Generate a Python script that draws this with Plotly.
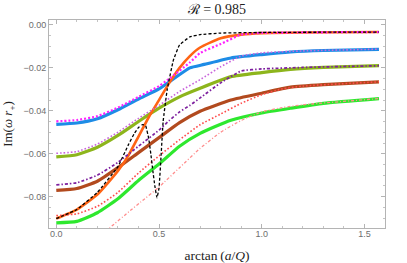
import plotly.graph_objects as go

# ---------------- data ----------------
x_common = [0.0, 0.1, 0.2, 0.3, 0.4, 0.5, 0.6, 0.7, 0.85, 1.0, 1.14, 1.3, 1.5708]

blue_x = [0.0, 0.1, 0.2, 0.3, 0.4, 0.5, 0.58, 0.65, 0.72, 0.85, 1.0, 1.14, 1.3, 1.5708]
blue_y = [-0.0463, -0.0457, -0.0437, -0.0395, -0.0345, -0.0298, -0.0245, -0.0200, -0.0184, -0.0154, -0.0138, -0.0126, -0.0119, -0.0114]
olive_y = [-0.0615, -0.0605, -0.0570, -0.0515, -0.0450, -0.0388, -0.0335, -0.0295, -0.0241, -0.0222, -0.0207, -0.0198, -0.0190]
brown_y = [-0.0771, -0.0762, -0.0728, -0.0665, -0.0595, -0.0525, -0.0455, -0.0402, -0.0350, -0.0318, -0.0290, -0.0278, -0.0265]
green_y = [-0.0922, -0.0915, -0.0875, -0.0810, -0.0725, -0.0648, -0.0565, -0.0505, -0.0444, -0.0410, -0.0388, -0.0365, -0.0343]

orange_x = [0.0, 0.1, 0.2, 0.3, 0.35, 0.4, 0.45, 0.5, 0.55, 0.6, 0.65, 0.7, 0.8, 0.9, 1.0, 1.2, 1.5708]
orange_y = [-0.0902, -0.0860, -0.0790, -0.0680, -0.0610, -0.0520, -0.0430, -0.0350, -0.0270, -0.0200, -0.0145, -0.0105, -0.0062, -0.0045, -0.0038, -0.0035, -0.0033]

black_x = [0.0, 0.1, 0.2, 0.3, 0.35, 0.38, 0.40, 0.42, 0.435, 0.45, 0.46, 0.47, 0.48, 0.49, 0.50, 0.51, 0.52, 0.54, 0.57, 0.60, 0.65, 0.7, 0.8, 1.0, 1.5708]
black_y = [-0.0902, -0.0860, -0.0780, -0.0660, -0.0560, -0.0505, -0.0478, -0.0464, -0.0470, -0.0530, -0.0600, -0.0680, -0.0752, -0.0805, -0.0760, -0.0610, -0.0450, -0.0300, -0.0164, -0.0093, -0.0056, -0.0045, -0.0038, -0.0035, -0.0033]

magenta_x = [0.0, 0.1, 0.2, 0.3, 0.4, 0.5, 0.55, 0.65, 0.7, 0.8, 0.9, 1.0, 1.2, 1.5708]
magenta_y = [-0.0449, -0.0443, -0.0425, -0.0385, -0.0335, -0.0285, -0.0250, -0.0175, -0.0131, -0.0089, -0.0045, -0.0037, -0.0035, -0.0033]

orchid_x = [0.0, 0.1, 0.2, 0.3, 0.4, 0.5, 0.6, 0.7, 0.8, 0.9, 1.0, 1.2, 1.5708]
orchid_y = [-0.0598, -0.0590, -0.0555, -0.0500, -0.0435, -0.0375, -0.0310, -0.0255, -0.0195, -0.0145, -0.0130, -0.0121, -0.0113]

purple_x = [0.0, 0.1, 0.2, 0.3, 0.4, 0.5, 0.55, 0.6, 0.65, 0.7, 0.8, 0.9, 1.0, 1.2, 1.5708]
purple_y = [-0.0745, -0.0735, -0.0700, -0.0640, -0.0565, -0.0490, -0.0445, -0.0405, -0.0375, -0.0340, -0.0270, -0.0215, -0.0205, -0.0198, -0.0190]

red_x = [0.0, 0.1, 0.2, 0.3, 0.4, 0.5, 0.6, 0.7, 0.8, 0.9, 1.0, 1.1, 1.2, 1.5708]
red_y = [-0.0888, -0.0880, -0.0845, -0.0780, -0.0690, -0.0610, -0.0535, -0.0465, -0.0415, -0.0365, -0.0325, -0.0298, -0.0285, -0.0265]

pink_x = [0.24, 0.26, 0.36, 0.41, 0.5, 0.6, 0.7, 0.8, 0.9, 1.0, 1.1, 1.2, 1.5708]
pink_y = [-0.0960, -0.0945, -0.0865, -0.0826, -0.0755, -0.0665, -0.0575, -0.0500, -0.0445, -0.0405, -0.0385, -0.0372, -0.0343]

x_tickvals = [0.0, 0.5, 1.0, 1.5]
x_ticktext = ["0.0", "0.5", "1.0", "1.5"]
y_tickvals = [0.0, -0.02, -0.04, -0.06, -0.08]
y_ticktext = ["0.00", "\u22120.02", "\u22120.04", "\u22120.06", "\u22120.08"]

# ---------------- figure ----------------
fig = go.Figure()

def add(x, y, color, width, dash="solid", shape="spline", smooth=0.5):
    line = dict(color=color, width=width, dash=dash, shape=shape)
    if shape == "spline":
        line["smoothing"] = smooth
    fig.add_trace(go.Scatter(x=x, y=y, mode="lines", line=line,
                             hoverinfo="skip", showlegend=False))

# solid curves
add(blue_x, blue_y, "#1e8ce6", 3.2)
add(x_common, olive_y, "#8db51c", 3.2)
add(x_common, brown_y, "#b24a1e", 3.2)
add(x_common, green_y, "#2ee82e", 3.2)
add(orange_x, orange_y, "#ff6414", 2.6)

# dotted / dashed curves
add(pink_x, pink_y, "#ff8c8c", 1.3, "3px,2px,1px,2px")
add(red_x, red_y, "#ff4a4a", 1.6, "1.6px,2px")
add(purple_x, purple_y, "#7d1f9e", 1.7, "3px,2px,1.5px,2px")
add(orchid_x, orchid_y, "#c965dc", 1.6, "1.6px,2px")
add(magenta_x, magenta_y, "#ff22ff", 2.2, "2px,2px")
add(black_x, black_y, "#000000", 1.3, "3px,2px", shape="spline", smooth=0.3)

axis_common = dict(
    showline=True, linecolor="#b4b4b4", linewidth=1, mirror="allticks",
    ticks="inside", ticklen=4, tickcolor="#b4b4b4", tickwidth=1,
    showgrid=False, zeroline=False, automargin=False,
    tickfont=dict(family="Liberation Sans, Arial, sans-serif", size=9, color="#6e6e6e"),
)

fig.update_xaxes(
    range=[-0.0355, 1.6], tickvals=x_tickvals, ticktext=x_ticktext,
    ticklabelstandoff=-3,
    minor=dict(ticks="inside", ticklen=2, tickcolor="#c4c4c4", dtick=0.1, tick0=0),
    title=dict(text="arctan\u2009(<i>a</i>/<i>Q</i>)", standoff=14,
               font=dict(family="Liberation Serif, DejaVu Serif, serif", size=13.5, color="#222")),
    **axis_common)
fig.update_yaxes(
    range=[-0.0946, 0.0023], tickvals=y_tickvals, ticktext=y_ticktext,
    minor=dict(ticks="inside", ticklen=2, tickcolor="#c4c4c4", dtick=0.005, tick0=0),
    title=dict(text="Im(<i>\u03c9 r</i><sub>+</sub>)", standoff=9,
               font=dict(family="Liberation Serif, DejaVu Serif, serif", size=13, color="#222")),
    **axis_common)

fig.update_layout(
    width=407, height=263,
    margin=dict(l=49, r=22, t=20, b=35),
    paper_bgcolor="white", plot_bgcolor="white",
    title=dict(text="\u211b = 0.985", x=0.533, xanchor="center", y=0.965, yanchor="middle",
               font=dict(family="Liberation Serif, DejaVu Serif, serif", size=14, color="#222")),
)

fig.write_html("out.html", config={"displayModeBar": False},
               post_script="document.body.style.margin='0';document.body.style.overflow='hidden';")
